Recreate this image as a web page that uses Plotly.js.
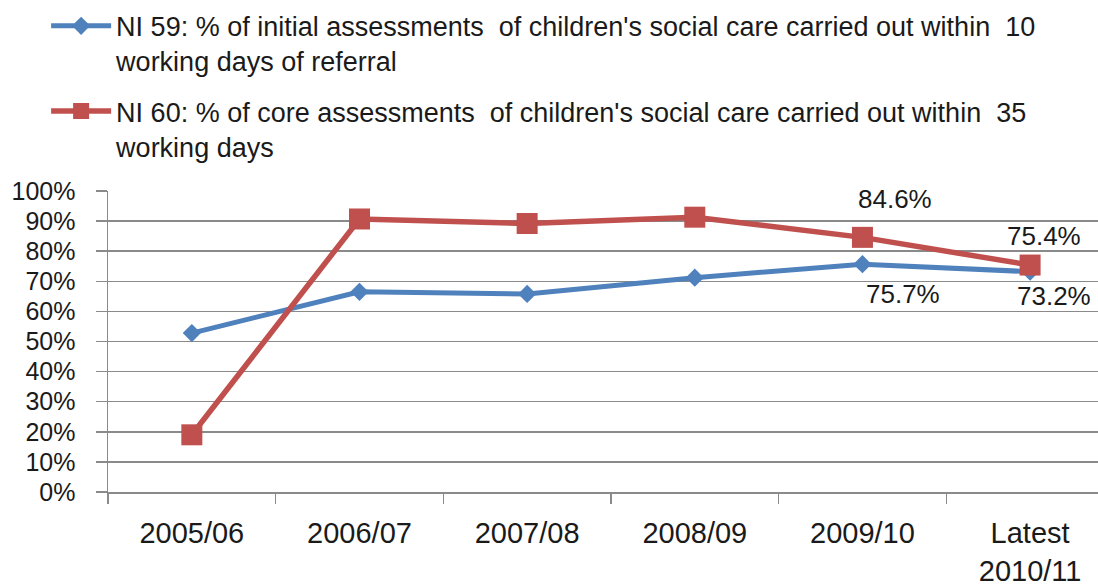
<!DOCTYPE html>
<html>
<head>
<meta charset="utf-8">
<script src="https://cdn.plot.ly/plotly-3.0.1.min.js"></script>
<style>
html,body{margin:0;padding:0;background:#fff;}
#chart{width:1098px;height:587px;}
</style>
</head>
<body>
<div id="chart"></div>
<script>
// ---- data ----
var categories = ['2005/06', '2006/07', '2007/08', '2008/09', '2009/10', 'Latest<br>2010/11'];
var ni59Values = [52.8, 66.5, 65.8, 71.2, 75.7, 73.2];
var ni60Values = [19.0, 90.7, 89.2, 91.3, 84.6, 75.4];
var ni59Name = "NI 59: % of initial assessments  of children's social care carried out within  10<br>working days of referral";
var ni60Name = "NI 60: % of core assessments  of children's social care carried out within  35<br>working days";
var labelledPoints = [4, 5];
var yTickVals = [0, 10, 20, 30, 40, 50, 60, 70, 80, 90, 100];
var yTickText = yTickVals.map(function (v) { return v + '%'; });

var blue = '#4F81BD';
var red = '#C0504D';
var textColor = '#1a1a1a';
var fontFam = '"Liberation Sans", Arial, sans-serif';

var traces = [
  {
    x: categories, y: ni59Values, name: ni59Name, type: 'scatter', mode: 'lines+markers',
    legendgroup: 'a',
    line: {color: blue, width: 5},
    marker: {symbol: 'diamond', size: 14, color: blue},
    cliponaxis: false, hoverinfo: 'x+y'
  },
  {
    x: categories, y: ni60Values, name: ni60Name, type: 'scatter', mode: 'lines+markers',
    legendgroup: 'b',
    line: {color: red, width: 5.5},
    marker: {symbol: 'square', size: 21, color: red},
    cliponaxis: false, hoverinfo: 'x+y'
  }
];

// data label offsets (style)
var ni59Shift = [[41, -30], [24, -24]];
var ni60Shift = [[33, 38], [14, 29]];
var annotations = [];
labelledPoints.forEach(function (idx, k) {
  annotations.push({
    x: categories[idx], y: ni60Values[idx], xref: 'x', yref: 'y',
    text: ni60Values[idx].toFixed(1) + '%', showarrow: false,
    xshift: ni60Shift[k][0], yshift: ni60Shift[k][1],
    font: {family: fontFam, size: 26, color: textColor}
  });
  annotations.push({
    x: categories[idx], y: ni59Values[idx], xref: 'x', yref: 'y',
    text: ni59Values[idx].toFixed(1) + '%', showarrow: false,
    xshift: ni59Shift[k][0], yshift: ni59Shift[k][1],
    font: {family: fontFam, size: 26, color: textColor}
  });
});

var layout = {
  width: 1098, height: 587,
  margin: {l: 108, r: 0, t: 191, b: 95, pad: 0, autoexpand: false},
  paper_bgcolor: '#ffffff', plot_bgcolor: '#ffffff',
  font: {family: fontFam, color: textColor},
  showlegend: true,
  legend: {
    xref: 'container', yref: 'container',
    x: 0.042, y: 0.997, xanchor: 'left', yanchor: 'top',
    traceorder: 'grouped', tracegroupgap: 12, valign: 'top',
    itemwidth: 60,
    font: {family: fontFam, size: 27, color: textColor},
    bgcolor: 'rgba(0,0,0,0)'
  },
  xaxis: {
    type: 'category',
    range: [-0.5, 5.405],
    automargin: false,
    showgrid: false, zeroline: false,
    showline: true, linecolor: '#8a8a8a', linewidth: 1.5,
    ticks: 'outside', tickson: 'boundaries', ticklen: 10, tickcolor: '#8a8a8a', tickwidth: 1.5,
    ticklabelstandoff: 15, tickangle: 0,
    tickfont: {family: fontFam, size: 29, color: textColor},
    fixedrange: true
  },
  yaxis: {
    range: [0, 100],
    automargin: false,
    tickmode: 'array', tickvals: yTickVals, ticktext: yTickText,
    showgrid: true, gridcolor: '#8a8a8a', gridwidth: 1.5,
    zeroline: false,
    showline: true, linecolor: '#8a8a8a', linewidth: 1.5,
    ticks: 'outside', ticklen: 11, tickcolor: '#8a8a8a', tickwidth: 1.5,
    ticklabelstandoff: 15,
    tickfont: {family: fontFam, size: 25, color: textColor},
    fixedrange: true
  },
  annotations: annotations
};

Plotly.newPlot('chart', traces, layout, {displayModeBar: false, staticPlot: true});
</script>
</body>
</html>
